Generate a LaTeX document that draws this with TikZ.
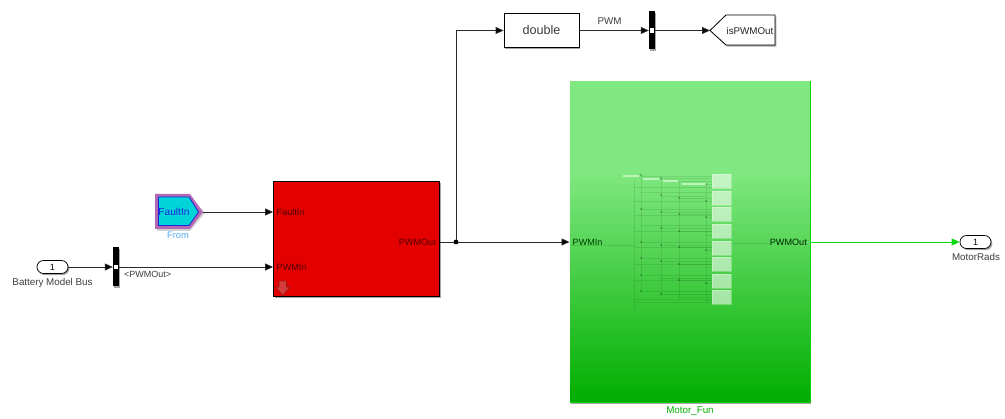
\documentclass[tikz,border=0pt]{standalone}
\usepackage{fontspec}
\setmainfont{Liberation Sans}
\usetikzlibrary{arrows.meta,shadows,calc}
\definecolor{wire}{HTML}{2A2A2A}
\definecolor{lab}{HTML}{3C3C3C}
\definecolor{gtop}{HTML}{80E880}
\definecolor{gbot}{HTML}{00AE00}
\definecolor{gedge}{HTML}{10D010}
\definecolor{gwire}{HTML}{10D810}
\definecolor{fromcyan}{HTML}{00D4D8}
\definecolor{frompurple}{HTML}{B468B4}
\definecolor{fromblue}{HTML}{1C28D8}
\definecolor{fromlabel}{HTML}{52AEF8}
\definecolor{redtext}{HTML}{500000}
\definecolor{badge}{HTML}{D43C3C}
\definecolor{badgeedge}{HTML}{981818}
\tikzset{
 shad/.style={drop shadow={shadow xshift=1.4pt,shadow yshift=-1.6pt,opacity=.35,fill=black}},
 conn/.style={draw=wire,line width=.8pt,-{Triangle[length=8pt,width=7pt,fill=black]}},
 gconn/.style={draw=gwire,line width=.8pt,-{Triangle[length=8pt,width=7pt,fill=gwire]}},
 plainwire/.style={draw=wire,line width=.8pt},
 small/.style={font=\fontsize{9.8}{11}\selectfont,text=lab,inner sep=0pt},
 port/.style={font=\fontsize{9.1}{11}\selectfont,inner sep=0pt},
 bar/.style={draw=none,fill=black,minimum width=6pt,minimum height=38pt,inner sep=0pt,shad},
 pin/.style={draw=black,line width=.7pt,fill=white,rounded corners=6.5pt,minimum width=31pt,minimum height=13pt,inner sep=0pt,font=\fontsize{9}{10}\selectfont,shad},
 dot/.style={fill=white,draw=none,minimum width=3.4pt,minimum height=4.5pt,inner sep=0pt},
 thumb/.style={fill=white,fill opacity=.55,draw=white,draw opacity=.3,line width=.5pt},
 tbar/.style={draw=white,draw opacity=.5,line width=1.5pt},
 tline/.style={draw=black!75!green,draw opacity=.11,line width=.7pt},
}
\begin{document}
\begin{tikzpicture}[x=1pt,y=-1pt]
\useasboundingbox (0,0) rectangle (1005,419);
% blocks
\node[draw=black,line width=.8pt,fill=white,minimum width=75pt,minimum height=34pt,inner sep=0pt,shad,font=\fontsize{12.6}{14}\selectfont,text=lab] (dbl) at (541.5,30.5) {double};
\node[draw=black,line width=.8pt,fill=red!90!black,minimum width=166pt,minimum height=115pt,inner sep=0pt,shad] (red) at (356.5,238.5) {};
\node[draw=gedge,line width=.9pt,fill=gbot,minimum width=240pt,minimum height=321pt,inner sep=0pt,shad] (green) at (690,241.5) {};
\fill[gtop] (570.4,81.4) rectangle (809.6,172);
\shade[top color=gtop,bottom color=gbot] (570.4,172) rectangle (809.6,401.6);
% thumbnail
\foreach \x/\a/\b in {634/179/310,641/175/292,661/178/295,679/181/298,706/184/300}{\draw[tline] (\x,\a) -- (\x,\b);}
\foreach \y/\a/\b in {176/641/712,178/661/712,181/679/712,184/706/712,187/634/712,192/641/712,196/661/706,198/679/712,201/634/712,209/641/712,212/661/712,215/634/712,214/679/712,217/706/712,225/641/712,228/661/712,231/634/712,231/679/712,235/706/712,242/641/712,245/570/634,245/661/712,247/634/712,247/679/712,250/706/712,258/641/712,261/661/712,264/634/712,264/679/712,267/706/712,275/641/712,278/661/712,280/634/712,280/679/712,283/706/712,291/641/712,294/661/712,297/679/712,299/634/712,300/706/712,302/634/712}{\draw[tline] (\a,\y) -- (\b,\y);}
\draw[tline] (731,243) -- (770,243);
\foreach \x/\y in {641/175,641/209,641/242,641/258,641/275,641/291,661/178,661/195,661/212,661/228,661/245,661/261,661/294,679/198,679/214,679/231,679/247,679/264,679/280,706/184,706/201,706/217,706/250,706/283}{\fill[black,opacity=.2] (\x-.8,\y-.8) rectangle (\x+.8,\y+.8);}
\draw[tbar] (623,176) -- (639,176);
\draw[tbar] (643,179) -- (659,179);
\draw[tbar] (663,181) -- (678,181);
\draw[tbar] (682,184) -- (706,184);
\foreach \y in {174,191,207,224,241,257,274,290}{\draw[thumb] (712,\y) rectangle (731,\y+14);}
% bars and pins
\node[pin] (inp) at (52.5,267) {1};
\node[small,anchor=north] (inlab) at (52.5,278.5) {Battery Model Bus};
\node[bar,minimum height=39pt] (sel) at (116,266.5) {};
\node[dot] (seld) at (116,267) {};
\node[bar] (dem) at (652,30) {};
\node[dot] (demd) at (652,30.5) {};
\node[pin] (outp) at (975.5,242) {1};
\node[small,anchor=north] (outlab) at (976,253.5) {MotorRads};
% From
\fill[black,opacity=.18] (157,196) -- (190,196) -- (205,213) -- (190,231) -- (157,231) -- cycle;
\fill[frompurple] (155,194) -- (190,194) -- (203,212) -- (190,229) -- (155,229) -- cycle;
\filldraw[draw=fromblue,line width=.8pt,fill=fromcyan] (158.5,197) -- (189,197) -- (198.5,212) -- (189,225.5) -- (158.5,225.5) -- cycle;
\node[font=\fontsize{10.2}{12}\selectfont,text=fromblue,inner sep=0pt] (from) at (174,212) {FaultIn};
\coordinate (fromtip) at (203,212);
\node[small,text=fromlabel,font=\fontsize{9.4}{11}\selectfont] (fromlab) at (178,235) {From};
% Goto
\filldraw[draw=black,line width=.8pt,fill=white,shad] (710,30.5) -- (726,15) -- (775,15) -- (775,45) -- (726,45) -- cycle;
\node[font=\fontsize{9.8}{11}\selectfont,inner sep=0pt,text=black!85] (gotolab) at (750,31) {isPWMOut};
\coordinate (gototip) at (710,30.5);
% port labels
\node[port,anchor=west,text=redtext] (pfault) at (276.5,212) {FaultIn};
\node[port,anchor=west,text=redtext] (ppwm) at (276.5,267) {PWMIn};
\node[port,anchor=east,text=redtext] (pout) at (436,242) {PWMOut};
\node[port,anchor=west,text=green!25!black] (gin) at (572.5,242) {PWMIn};
\node[port,anchor=east,text=green!15!black] (gout) at (807,242) {PWMOut};
\node[small,text=green!70!black] (mlab) at (690,411.5) {Motor\_Fun};
\node[small] (pwmlab) at (609.5,21.5) {PWM};
\node[small,anchor=west,font=\fontsize{9}{10}\selectfont] (buslab) at (124,274.5) {<PWMOut>};
% down-arrow badge
\filldraw[draw=badgeedge,fill=badge,line width=.6pt] (279,281) -- (286.5,281) -- (286.5,287) -- (290,287) -- (282.8,295.5) -- (275.6,287) -- (279,287) -- cycle;
% connectors
\draw[conn] (inp.east) -- (sel.west |- inp);
\draw[conn] (sel.east |- seld) -- (red.west |- ppwm);
\draw[conn] (fromtip) -- (red.west |- pfault);
\coordinate (split) at (456,242);
\draw[plainwire] (red.east |- pout) -- (split);
\draw[conn] (split) -- (green.west |- gin);
\draw[conn] (split) -- (split |- dbl) -- (dbl.west);
\fill[black] (split) circle (2.4pt);
\draw[conn] (dbl.east) -- (dem.west |- dbl);
\draw[conn] (dem.east |- dbl) -- (gototip);
\draw[gconn] (green.east |- gout) -- (outp.west |- gout);
\end{tikzpicture}
\end{document}
